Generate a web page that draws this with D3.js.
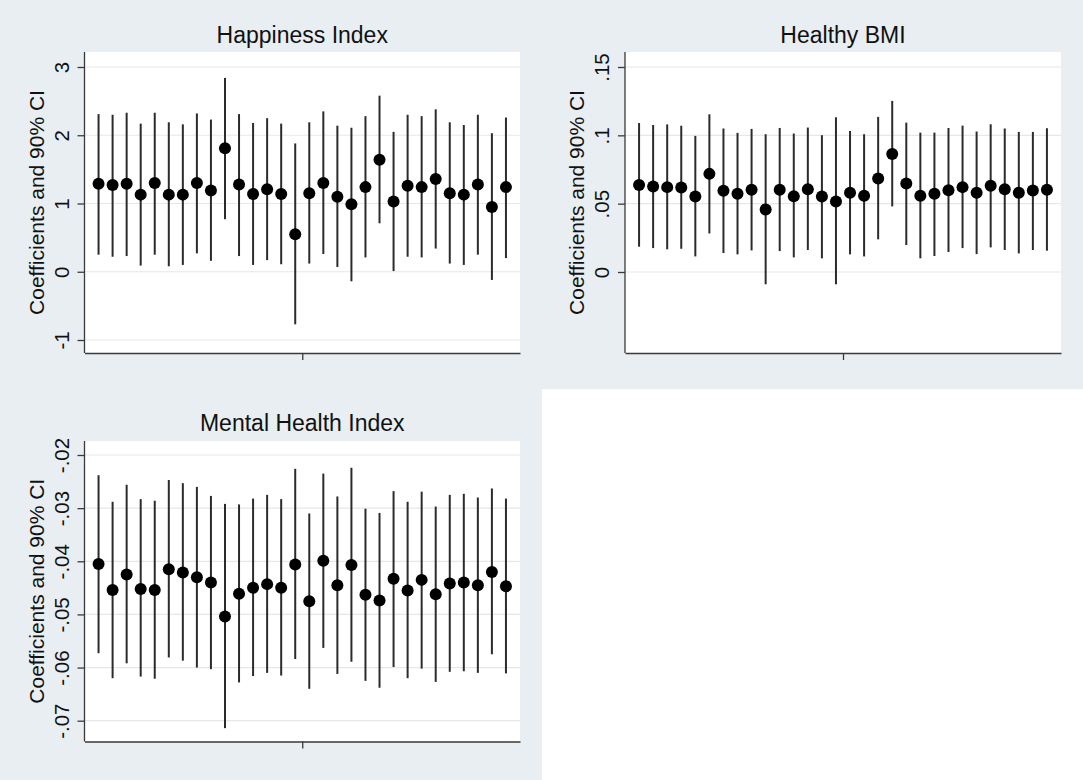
<!DOCTYPE html>
<html>
<head>
<meta charset="utf-8">
<script src="https://cdn.jsdelivr.net/npm/d3@7"></script>
<style>
  html, body { margin: 0; padding: 0; background: #ffffff; }
  svg { display: block; }
  text { font-family: "Liberation Sans", Arial, Helvetica, sans-serif; fill: #111; }
</style>
</head>
<body>
<svg id="chart" width="1083" height="780"></svg>
<script>
// ---------- DATA ----------
const specs = [1,2,3,4,5,6,7,8,9,10,11,12,13,14,15,16,17,18,19,20,21,22,23,24,25,26,27,28,29,30];

const happinessCoef = [1.29,1.27,1.29,1.13,1.30,1.13,1.13,1.30,1.19,1.81,1.28,1.14,1.21,1.14,0.55,1.15,1.30,1.10,0.99,1.24,1.64,1.03,1.26,1.24,1.36,1.15,1.13,1.28,0.95,1.24];
const happinessLo   = [0.25,0.22,0.23,0.09,0.25,0.08,0.10,0.27,0.16,0.77,0.23,0.10,0.17,0.11,-0.77,0.12,0.26,0.07,-0.14,0.21,0.71,0.01,0.22,0.21,0.34,0.12,0.10,0.25,-0.12,0.20];
const happinessHi   = [2.31,2.30,2.33,2.17,2.33,2.19,2.16,2.32,2.23,2.84,2.31,2.18,2.25,2.17,1.88,2.19,2.35,2.14,2.11,2.28,2.58,2.05,2.30,2.28,2.38,2.19,2.15,2.30,2.03,2.26];
const happinessTicks = [-1,0,1,2,3];
const happinessTickLabels = ["-1","0","1","2","3"];

const bmiCoef = [0.0636,0.0626,0.0621,0.0618,0.0553,0.0718,0.0594,0.0572,0.0601,0.0458,0.0601,0.0555,0.0606,0.0553,0.0516,0.0580,0.0558,0.0684,0.0864,0.0648,0.0558,0.0572,0.0599,0.0621,0.0580,0.0631,0.0606,0.0580,0.0597,0.0601];
const bmiLo   = [0.0185,0.0175,0.0166,0.0170,0.0114,0.0282,0.0139,0.0129,0.0158,-0.0090,0.0153,0.0107,0.0161,0.0100,-0.0090,0.0129,0.0114,0.0239,0.0480,0.0197,0.0100,0.0117,0.0146,0.0175,0.0131,0.0180,0.0161,0.0136,0.0161,0.0156];
const bmiHi   = [0.1090,0.1076,0.1080,0.1070,0.0996,0.1154,0.1050,0.1018,0.1047,0.1008,0.1054,0.1013,0.1057,0.1001,0.1132,0.1032,0.1008,0.1135,0.1252,0.1093,0.1020,0.1020,0.1054,0.1071,0.1028,0.1081,0.1050,0.1025,0.1025,0.1052];
const bmiTicks = [0,0.05,0.1,0.15];
const bmiTickLabels = ["0",".05",".1",".15"];

const mentalCoef = [-0.0405,-0.0454,-0.0425,-0.0452,-0.0454,-0.0415,-0.0421,-0.0430,-0.0440,-0.0504,-0.0461,-0.0450,-0.0443,-0.0450,-0.0406,-0.0475,-0.0399,-0.0445,-0.0407,-0.0463,-0.0474,-0.0433,-0.0455,-0.0435,-0.0462,-0.0442,-0.0440,-0.0445,-0.0420,-0.0447];
const mentalLo   = [-0.0573,-0.0620,-0.0592,-0.0617,-0.0621,-0.0581,-0.0587,-0.0600,-0.0603,-0.0714,-0.0628,-0.0616,-0.0610,-0.0615,-0.0584,-0.0640,-0.0563,-0.0612,-0.0589,-0.0625,-0.0638,-0.0599,-0.0620,-0.0602,-0.0627,-0.0608,-0.0607,-0.0610,-0.0575,-0.0611];
const mentalHi   = [-0.0238,-0.0288,-0.0256,-0.0283,-0.0286,-0.0247,-0.0253,-0.0260,-0.0277,-0.0292,-0.0293,-0.0282,-0.0275,-0.0283,-0.0226,-0.0310,-0.0235,-0.0278,-0.0224,-0.0301,-0.0309,-0.0268,-0.0288,-0.0269,-0.0297,-0.0275,-0.0273,-0.0280,-0.0263,-0.0282];
const mentalTicks = [-0.07,-0.06,-0.05,-0.04,-0.03,-0.02];
const mentalTickLabels = ["-.07","-.06","-.05","-.04","-.03","-.02"];

const yTitle = "Coefficients and 90% CI";

// ---------- LAYOUT ----------
const panels = [
  { title: "Happiness Index", coef: happinessCoef, lo: happinessLo, hi: happinessHi,
    ticks: happinessTicks, labels: happinessTickLabels,
    left: 84.5, right: 520, top: 52, bottom: 353, titleY: 43,
    yDom: [-1, 3], yRng: [340, 67] },
  { title: "Healthy BMI", coef: bmiCoef, lo: bmiLo, hi: bmiHi,
    ticks: bmiTicks, labels: bmiTickLabels,
    left: 625, right: 1061, top: 52, bottom: 353, titleY: 43,
    yDom: [0, 0.15], yRng: [272, 67] },
  { title: "Mental Health Index", coef: mentalCoef, lo: mentalLo, hi: mentalHi,
    ticks: mentalTicks, labels: mentalTickLabels,
    left: 84.5, right: 520, top: 441, bottom: 741.5, titleY: 431,
    yDom: [-0.07, -0.02], yRng: [720.7, 455] }
];

const svg = d3.select("#chart");
const bg = "#e8eef1";

// graph region backgrounds
svg.append("rect").attr("x", 0).attr("y", 0).attr("width", 1083).attr("height", 780).attr("fill", bg);
svg.append("rect").attr("x", 542).attr("y", 389).attr("width", 541).attr("height", 391).attr("fill", "#ffffff");

panels.forEach(p => {
  const g = svg.append("g");
  const x = d3.scaleLinear().domain([0, specs.length + 1]).range([p.left, p.right]);
  const y = d3.scaleLinear().domain(p.yDom).range(p.yRng);

  // plot region
  g.append("rect").attr("x", p.left).attr("y", p.top)
    .attr("width", p.right - p.left).attr("height", p.bottom - p.top).attr("fill", "#ffffff");

  // grid lines
  g.append("g").selectAll("line").data(p.ticks).join("line")
    .attr("x1", p.left).attr("x2", p.right)
    .attr("y1", d => y(d)).attr("y2", d => y(d))
    .attr("stroke", "#e4e8ea").attr("stroke-width", 1.2);

  // y axis
  const yAxis = d3.axisLeft(y).tickValues(p.ticks)
    .tickFormat((d, i) => p.labels[i]).tickSize(7).tickPadding(0);
  const ya = g.append("g").attr("transform", `translate(${p.left},0)`).call(yAxis);
  ya.select(".domain").remove();
  ya.selectAll(".tick line").attr("stroke", "#3a3a3a").attr("stroke-width", 1.3);
  ya.selectAll(".tick text")
    .attr("x", null).attr("dy", null)
    .attr("text-anchor", "middle")
    .attr("transform", "translate(-16,0) rotate(-90)")
    .attr("fill", "#111")
    .style("font-size", "20.5px")
    .style("font-family", "'Liberation Sans', Arial, sans-serif");
  g.append("line").attr("x1", p.left).attr("x2", p.left)
    .attr("y1", p.top).attr("y2", p.bottom)
    .attr("stroke", "#3a3a3a").attr("stroke-width", 1.3);

  // x axis
  const xAxis = d3.axisBottom(x).tickValues([(specs.length + 1) / 2]).tickFormat("").tickSize(7).tickSizeOuter(0);
  const xa = g.append("g").attr("transform", `translate(0,${p.bottom})`).call(xAxis);
  xa.select(".domain").attr("stroke", "#3a3a3a").attr("stroke-width", 1.3);
  xa.selectAll(".tick line").attr("stroke", "#3a3a3a").attr("stroke-width", 1.3);

  // CI lines
  g.append("g").selectAll("line").data(specs).join("line")
    .attr("x1", (d) => x(d)).attr("x2", (d) => x(d))
    .attr("y1", (d, i) => y(p.lo[i])).attr("y2", (d, i) => y(p.hi[i]))
    .attr("stroke", "#2b2b2b").attr("stroke-width", 2);

  // points
  g.append("g").selectAll("circle").data(specs).join("circle")
    .attr("cx", d => x(d)).attr("cy", (d, i) => y(p.coef[i]))
    .attr("r", 6).attr("fill", "#000");

  // title
  g.append("text").attr("x", (p.left + p.right) / 2).attr("y", p.titleY)
    .attr("text-anchor", "middle").style("font-size", "23px").text(p.title);

  // y title
  const cy = (p.top + p.bottom) / 2;
  g.append("text").attr("transform", `translate(${p.left - 41},${cy}) rotate(-90)`)
    .attr("text-anchor", "middle").style("font-size", "21px").text(yTitle);
});
</script>
</body>
</html>
